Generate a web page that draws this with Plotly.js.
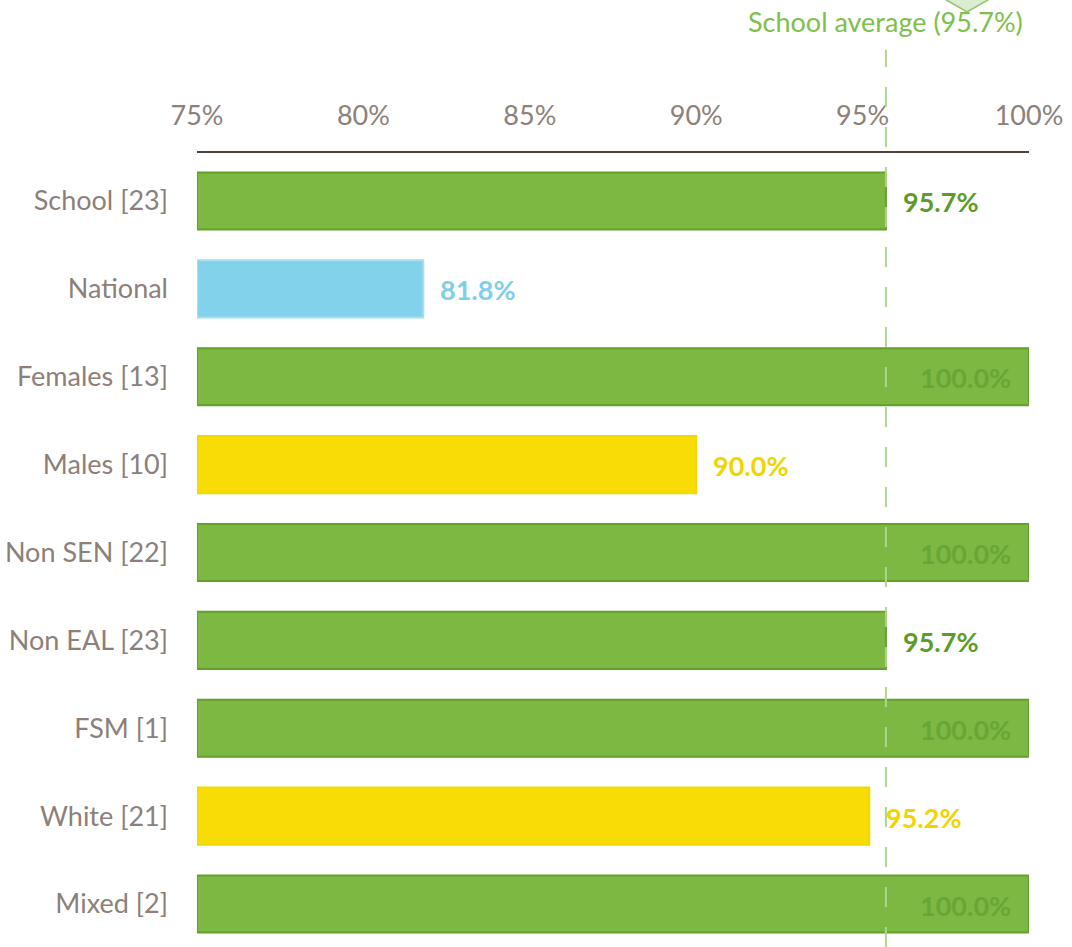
<!DOCTYPE html>
<html>
<head>
<meta charset="utf-8">
<script src="https://cdn.plot.ly/plotly-3.0.1.min.js"></script>
<style>html,body{margin:0;padding:0;background:#fff;}#chart{width:1072px;height:947px;}</style>
</head>
<body>
<div id="chart"></div>
<script>
const categories = ['School [23]', 'National', 'Females [13]', 'Males [10]', 'Non SEN [22]', 'Non EAL [23]', 'FSM [1]', 'White [21]', 'Mixed [2]'];
const values = [95.7, 81.8, 100.0, 90.0, 100.0, 95.7, 100.0, 95.2, 100.0];
const groups = ['green', 'national', 'green', 'below', 'green', 'green', 'green', 'below', 'green'];
const schoolAverage = 95.7;
const axisMin = 75;
const axisMax = 100;
const tickValues = [75, 80, 85, 90, 95, 100];
const tickLabels = ['75%', '80%', '85%', '90%', '95%', '100%'];

const FONT = 'Lato, "Noto Sans", sans-serif';
const FS = 27;
const fill = {green: '#7db843', national: '#81d2ea', below: '#f8dc06'};
const border = {green: '#62a02a', national: '#a6def0', below: '#f2d800'};
const textCol = {green: '#5e9c2a', national: '#7fcfe8', below: '#f2d400'};
const insideTextCol = '#68a635';

const bars = {
  type: 'bar',
  orientation: 'h',
  y: categories,
  x: values.map(v => v - axisMin),
  base: axisMin,
  width: 0.65,
  marker: {
    color: groups.map(g => fill[g]),
    line: {color: groups.map(g => border[g]), width: 2}
  },
  hoverinfo: 'none',
  showlegend: false
};

const annotations = values.map((v, i) => {
  const full = v >= axisMax;
  return {
    x: v, y: categories[i], xref: 'x', yref: 'y',
    text: v.toFixed(1) + '%',
    showarrow: false,
    xanchor: full ? 'right' : 'left',
    xshift: full ? -16 : 15,
    yshift: -1,
    font: {family: FONT, size: FS, weight: 700, color: full ? insideTextCol : textCol[groups[i]]}
  };
});

annotations.push({
  x: schoolAverage, xref: 'x', y: 1.165, yref: 'paper',
  text: 'School average (' + schoolAverage.toFixed(1) + '%)',
  showarrow: false, xanchor: 'center', yanchor: 'middle',
  font: {family: FONT, size: FS, color: '#7dc04b'}
});

const layout = {
  width: 1072, height: 947,
  margin: {l: 197, r: 43, t: 153, b: 0, pad: 0},
  paper_bgcolor: '#ffffff', plot_bgcolor: '#ffffff',
  bargap: 0.35,
  xaxis: {
    side: 'top', range: [axisMin, axisMax], tickvals: tickValues, ticktext: tickLabels,
    showgrid: false, zeroline: false, showline: true, linecolor: '#4e4238', linewidth: 2,
    ticks: '', ticklabelstandoff: 15,
    tickfont: {family: FONT, size: FS, color: '#8c8079'}
  },
  yaxis: {
    type: 'category', range: [8.489, -0.546], autorange: false,
    showgrid: false, zeroline: false, showline: false, ticks: '',
    ticklabelstandoff: 28,
    tickfont: {family: FONT, size: FS, color: '#8c8079'}
  },
  shapes: [
    {type: 'line', xref: 'x', yref: 'paper', x0: schoolAverage, x1: schoolAverage, y0: 0, y1: 1.13,
     line: {color: '#acd68e', width: 2, dash: '20px,20px'}, layer: 'above'},
    {type: 'path', xref: 'x', yref: 'paper',
     path: 'M 97.1 1.2028 L 99.18 1.2028 L 98.14 1.1776 Z',
     fillcolor: '#dcecd0', line: {color: '#8cc56a', width: 1.5}, layer: 'above'}
  ],
  annotations: annotations
};

Plotly.newPlot('chart', [bars], layout, {displayModeBar: false, staticPlot: true});
</script>
</body>
</html>
